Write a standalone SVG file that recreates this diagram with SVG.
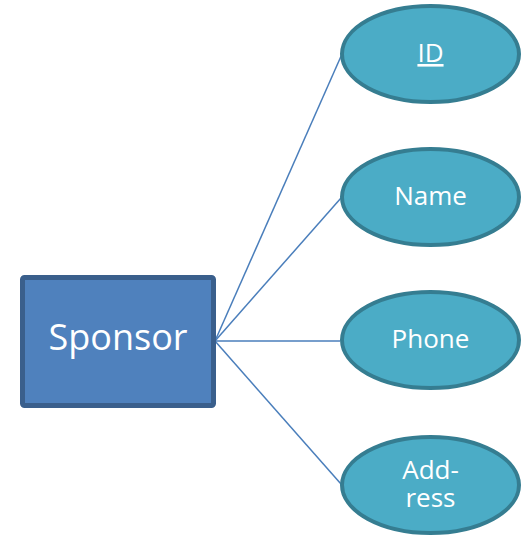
<svg xmlns="http://www.w3.org/2000/svg" width="528" height="537" viewBox="0 0 528 537">
<style>
.ent{fill:#4F81BD;stroke:#3A5F8C;stroke-width:5}
.att{fill:#4BACC6;stroke:#357D91;stroke-width:4}
.t{fill:#fff;font-family:"Open Sans","Liberation Sans",sans-serif;text-anchor:middle}
.c{stroke:#4A7EBB;stroke-width:1.5;fill:none}
</style>
<rect width="528" height="537" fill="#fff"/>
<g id="connectors">
<line class="c" x1="215" y1="341" x2="342" y2="54"/>
<line class="c" x1="215" y1="341" x2="341" y2="198"/>
<line class="c" x1="215" y1="341" x2="340" y2="341"/>
<line class="c" x1="215" y1="341" x2="341" y2="484"/>
</g>
<g id="sponsor">
<rect class="ent" x="22.5" y="277.5" width="191" height="128" rx="2"/>
<text class="t" x="118" y="350" font-size="36">Sponsor</text>
</g>
<g id="id">
<ellipse class="att" cx="430.5" cy="54" rx="88.5" ry="48"/>
<text class="t" x="430.5" y="62" font-size="26" text-decoration="underline">ID</text>
</g>
<g id="name">
<ellipse class="att" cx="430.5" cy="197" rx="88.5" ry="48"/>
<text class="t" x="430.5" y="205" font-size="26">Name</text>
</g>
<g id="phone">
<ellipse class="att" cx="430.5" cy="340" rx="88.5" ry="48"/>
<text class="t" x="430.5" y="348" font-size="26">Phone</text>
</g>
<g id="address">
<ellipse class="att" cx="430.5" cy="485" rx="88.5" ry="48"/>
<text class="t" font-size="26"><tspan x="430.5" y="479">Add-</tspan><tspan x="430.5" y="507">ress</tspan></text>
</g>
</svg>
